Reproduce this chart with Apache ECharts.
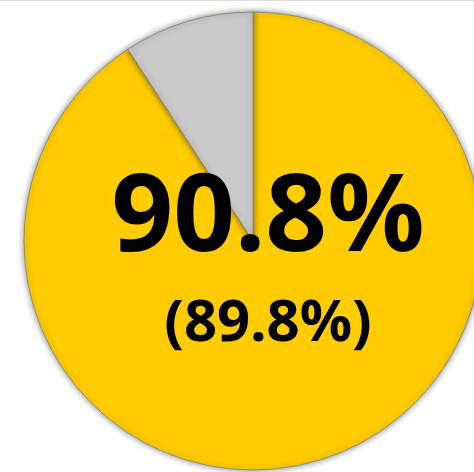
<!DOCTYPE html>
<html>
<head>
<meta charset="utf-8">
<script src="https://cdn.jsdelivr.net/npm/echarts@6/dist/echarts.min.js"></script>
<style>
  html, body { margin: 0; padding: 0; background: #fff; }
  #main { width: 474px; height: 472px; border-top: 1px solid #ddd; box-sizing: border-box; }
</style>
</head>
<body>
<div id="main"></div>
<script>
// slice names and values (percent)
const sliceNames = ['달성', '미달성'];
const sliceValues = [90.8, 9.2];
const sliceColors = ['#FFCC00', '#C9C9C9'];
// captions in the middle
const mainLabel = '90.8%';
const subLabel = '(89.8%)';

const chart = echarts.init(document.getElementById('main'));

const option = {
  backgroundColor: '#fff',
  animation: false,
  series: [
    {
      type: 'pie',
      center: [253, 240],
      radius: 229,
      startAngle: 90,
      clockwise: true,
      label: { show: false },
      labelLine: { show: false },
      emphasis: { disabled: true },
      data: sliceNames.map((n, i) => ({
        name: n,
        value: sliceValues[i],
        itemStyle: {
          color: sliceColors[i],
          borderColor: '#8f8f80',
          borderWidth: 1,
          shadowBlur: 6,
          shadowColor: 'rgba(0,0,0,0.45)'
        }
      }))
    }
  ],
  graphic: [
    {
      type: 'text',
      x: 268,
      y: 273,
      z: 10,
      style: {
        text: mainLabel,
        fill: '#000',
        fontSize: 108,
        fontWeight: 'bold',
        fontFamily: '"Noto Sans", "Open Sans", sans-serif',
        align: 'center',
        verticalAlign: 'bottom'
      }
    },
    {
      type: 'text',
      x: 268,
      y: 352,
      z: 10,
      style: {
        text: subLabel,
        fill: '#000',
        fontSize: 58,
        fontWeight: 'bold',
        fontFamily: '"Noto Sans", "Open Sans", sans-serif',
        align: 'center',
        verticalAlign: 'bottom'
      }
    }
  ]
};

chart.setOption(option);
window.addEventListener('resize', () => chart.resize());
</script>
</body>
</html>
